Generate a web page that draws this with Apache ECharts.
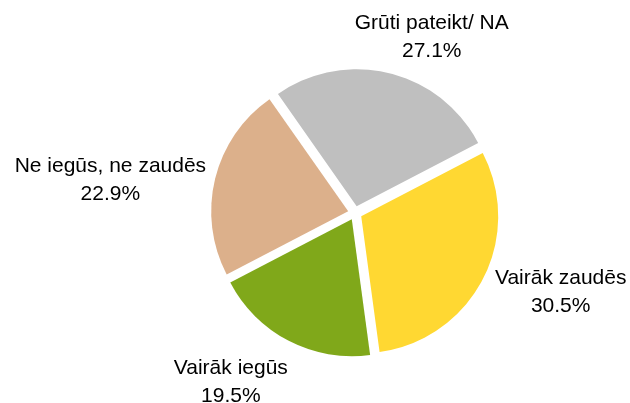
<!DOCTYPE html>
<html>
<head>
<meta charset="utf-8">
<script src="https://cdn.jsdelivr.net/npm/echarts@6/dist/echarts.min.js"></script>
<style>
  html, body { margin: 0; padding: 0; background: #fff; }
  #chartmain { width: 630px; height: 403px; }
</style>
</head>
<body>
<div id="chartmain"></div>
<script>
  // dati (procenti)
  var nosaukumi = ['Vairāk zaudēs', 'Vairāk iegūs', 'Ne iegūs, ne zaudēs', 'Grūti pateikt/ NA'];
  var vertibas = [30.5, 19.5, 22.9, 27.1];
  var krasas = ['#FFD832', '#80A81A', '#DCB08B', '#BFBFBF'];

  // etiķešu nobīdes (izkārtojums, ne dati)
  var nobides = [[-18, 6], [41, 28], [26, 5], [-73, -21]];

  var servicedata = [];
  for (var i = 0; i < nosaukumi.length; i++) {
    servicedata.push({
      name: nosaukumi[i],
      value: vertibas[i],
      selected: true,
      itemStyle: { color: krasas[i] }
    });
  }

  var teksts = { align: 'center', fontSize: 21, lineHeight: 28, color: '#000',
    fontFamily: '"Liberation Sans", Arial, sans-serif' };

  var myChart = echarts.init(document.getElementById('chartmain'));
  myChart.setOption({
    animation: false,
    series: [{
      type: 'pie',
      center: [355, 213],
      radius: 137,
      startAngle: 27.5,
      clockwise: true,
      selectedMode: 'multiple',
      selectedOffset: 7,
      emphasis: { disabled: true },
      label: {
        show: true,
        position: 'outside',
        formatter: function (p) {
          return '{t|' + p.name + '}\n{t|' + p.value.toFixed(1) + '%}';
        },
        fontFamily: '"Liberation Sans", Arial, sans-serif',
        fontSize: 21,
        lineHeight: 28,
        color: '#000',
        overflow: 'none',
        rich: { t: teksts }
      },
      labelLine: { show: false },
      labelLayout: function (p) {
        var n = nobides[p.dataIndex];
        return { dx: n[0], dy: n[1] };
      },
      data: servicedata
    }]
  });
</script>
</body>
</html>
